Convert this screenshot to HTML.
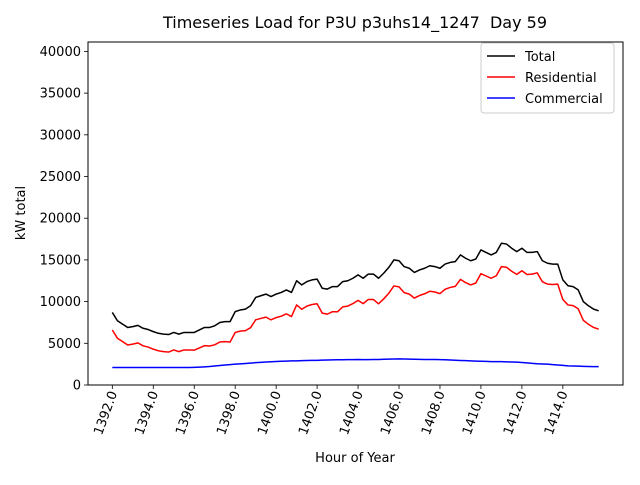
<!DOCTYPE html>
<html><head><meta charset="utf-8"><style>
body{margin:0;background:#fff;}
svg text{font-family:"DejaVu Sans","Liberation Sans",sans-serif;fill:#000;}
</style></head><body>
<svg id="chart" width="640" height="480" xmlns="http://www.w3.org/2000/svg">
<rect width="640" height="480" fill="#fff"/>
<text x="355" y="28" font-size="16" text-anchor="middle">Timeseries Load for P3U p3uhs14_1247&#160; Day 59</text>
<g id="plot"></g>
<text x="355" y="462" font-size="13" text-anchor="middle">Hour of Year</text>
<text transform="translate(25,213) rotate(-90)" font-size="13" text-anchor="middle">kW total</text>
</svg>
<script>
const total=[8700,7700,7300,6900,7000,7150,6800,6650,6400,6200,6100,6050,6300,6100,6300,6300,
6300,6600,6900,6900,7100,7500,7600,7600,8800,9000,9100,9500,10500,10700,10900,10600,
10900,11100,11400,11100,12500,12000,12400,12600,12700,11600,11500,11800,11800,12400,12500,12800,
13200,12800,13300,13300,12800,13400,14100,15000,14900,14200,14000,13500,13800,14000,14300,14200,
14000,14500,14700,14800,15600,15200,14900,15100,16200,15900,15600,15900,17000,16900,16400,16000,
16400,15900,15900,16000,14900,14600,14500,14500,12600,11900,11800,11400,10000,9500,9100,8900];
const residential=[6600,5600,5200,4800,4900,5050,4700,4550,4300,4100,4000,3950,4200,4000,4200,4200,
4180,4450,4720,4680,4820,5160,5200,5150,6300,6460,6520,6870,7820,7980,8140,7810,
8080,8250,8530,8210,9600,9080,9460,9650,9740,8620,8500,8790,8780,9370,9460,9760,
10150,9760,10260,10250,9740,10320,11000,11880,11770,11080,10900,10420,10730,10940,11240,11150,
10960,11480,11700,11830,12660,12280,12000,12230,13350,13070,12800,13100,14200,14120,13640,13260,
13700,13250,13300,13450,12380,12100,12050,12100,10250,9600,9520,9140,7760,7280,6900,6700];
const commercial=[2100,2100,2100,2100,2100,2100,2100,2100,2100,2100,2100,2100,2100,2100,2100,2100,
2120,2150,2180,2220,2280,2340,2400,2450,2500,2540,2580,2630,2680,2720,2760,2790,
2820,2850,2870,2890,2900,2920,2940,2950,2960,2980,3000,3010,3020,3030,3040,3040,
3050,3040,3040,3050,3060,3080,3100,3120,3130,3120,3100,3080,3070,3060,3060,3050,
3040,3020,3000,2970,2940,2920,2900,2870,2850,2830,2800,2800,2800,2780,2760,2740,
2700,2650,2600,2550,2520,2500,2450,2400,2350,2300,2280,2260,2240,2220,2200,2200];
const startHour=1392, step=0.25;
const yTicks=[0,5000,10000,15000,20000,25000,30000,35000,40000];
const xTicks=[1392,1394,1396,1398,1400,1402,1404,1406,1408,1410,1412,1414];
const seriesNames=["Total","Residential","Commercial"];

const L=88,R=623,T=42,B=385;
const n=total.length;
const xmin0=startHour,xmax0=startHour+(n-1)*step,pad=(xmax0-xmin0)*0.05;
const xmin=xmin0-pad,xmax=xmax0+pad;
const ymin=0,ymax=41130;
const X=v=>L+(v-xmin)/(xmax-xmin)*(R-L);
const Y=v=>B-(v-ymin)/(ymax-ymin)*(B-T);
const NS="http://www.w3.org/2000/svg";
const g=document.getElementById('plot');
function mk(t,a){const e=document.createElementNS(NS,t);for(const k in a)e.setAttribute(k,a[k]);g.appendChild(e);return e;}
yTicks.forEach(v=>{
 const l=mk('line',{x1:L-4,x2:L,y1:Y(v),y2:Y(v),stroke:'#000','stroke-width':0.8});
 
 
 const t=mk('text',{x:L-7,y:Y(v)+4.5,'font-size':13,'text-anchor':'end'});
 t.textContent=v;
 
 
});
xTicks.forEach(v=>{
 const l=mk('line',{x1:X(v),x2:X(v),y1:B,y2:B+4,stroke:'#000','stroke-width':0.8});
 
 
 const t=mk('text',{transform:`translate(${X(v)+5},${B+8}) rotate(-70)`,'font-size':13,'text-anchor':'end'});
 t.textContent=v.toFixed(1);
 
 
});
function line(arr,color,name){
 const d=arr.map((v,i)=>(i?'L':'M')+X(startHour+i*step).toFixed(2)+','+Y(v).toFixed(2)).join('');
 const p=mk('path',{d:d,fill:'none',stroke:color,'stroke-width':1.5,'stroke-linejoin':'round'});
 
 
}
line(total,'#000','total-line');
line(residential,'#f00','residential-line');
line(commercial,'#00f','commercial-line');
const frame=mk('rect',{x:L,y:T,width:R-L,height:B-T,fill:'none',stroke:'#000','stroke-width':1});


const lg=mk('rect',{x:481,y:43,width:133,height:70,fill:'#fff',stroke:'#ccc','stroke-width':1,rx:3});


const cols=['#000','#f00','#00f'];
seriesNames.forEach((s,i)=>{
 const y=56+i*21;
 const l=mk('line',{x1:487,x2:515,y1:y,y2:y,stroke:cols[i],'stroke-width':1.5});
 
 
 const t=mk('text',{x:525,y:y+5,'font-size':13});
 t.textContent=s;
 
 
});
</script>
</body></html>
